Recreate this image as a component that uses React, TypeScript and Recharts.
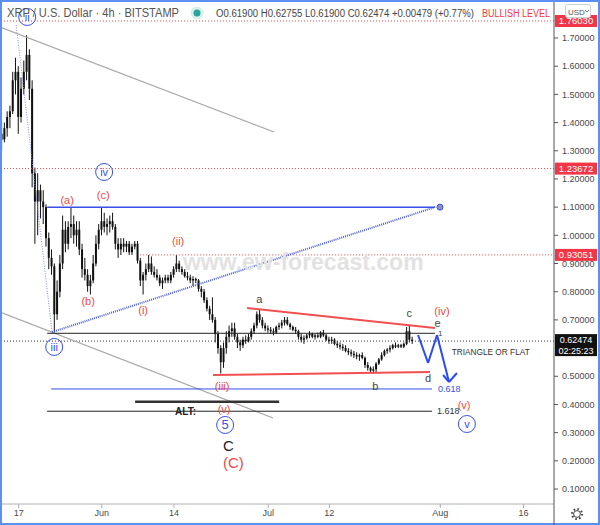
import { ComposedChart, Bar, XAxis, YAxis, ReferenceLine, ReferenceDot } from 'recharts';

const FONT = '"Liberation Sans", Arial, sans-serif';
const RED = '#f04848';
const BLUE = '#3650e8';

// 12h candles [open, high, low, close]; first one opens on May 14, x is days from Jun 1
const firstDay = -18;
const candles: [number, number, number, number][] = [
  [1.36, 1.4, 1.3, 1.34], [1.34, 1.4, 1.33, 1.38], [1.38, 1.44, 1.35, 1.42], [1.42, 1.46, 1.38, 1.44],
  [1.44, 1.58, 1.43, 1.55], [1.55, 1.63, 1.5, 1.58], [1.58, 1.6, 1.36, 1.42], [1.42, 1.56, 1.4, 1.52],
  [1.52, 1.62, 1.5, 1.58], [1.58, 1.71, 1.55, 1.64], [1.64, 1.66, 1.48, 1.52], [1.52, 1.55, 1.17, 1.22],
  [1.22, 1.24, 0.97, 1.12], [1.12, 1.22, 1.0, 1.16], [1.16, 1.18, 1.06, 1.12], [1.12, 1.16, 1.04, 1.1],
  [1.1, 1.11, 0.96, 0.99], [0.99, 1.01, 0.88, 0.92], [0.92, 0.95, 0.86, 0.89], [0.89, 0.9, 0.655, 0.72],
  [0.72, 0.84, 0.7, 0.8], [0.8, 0.93, 0.78, 0.9], [0.9, 1.07, 0.88, 1.02], [1.02, 1.05, 0.94, 0.97],
  [0.97, 1.05, 0.95, 1.03], [1.03, 1.1, 0.99, 1.04], [1.04, 1.07, 0.97, 1.0], [1.0, 1.05, 0.96, 1.02],
  [1.02, 1.05, 0.93, 0.95], [0.95, 0.97, 0.85, 0.88], [0.88, 0.92, 0.84, 0.86], [0.86, 0.88, 0.8, 0.82],
  [0.82, 0.86, 0.79, 0.84], [0.84, 0.93, 0.83, 0.9], [0.9, 1.0, 0.89, 0.97], [0.97, 1.04, 0.95, 1.02],
  // Jun 1
  [1.02, 1.1, 1.0, 1.05], [1.05, 1.08, 1.01, 1.03], [1.03, 1.06, 1.0, 1.04], [1.04, 1.07, 1.01, 1.05],
  [1.05, 1.08, 1.02, 1.03], [1.03, 1.04, 0.95, 0.97], [0.97, 0.99, 0.92, 0.95], [0.95, 0.99, 0.93, 0.97],
  [0.97, 0.99, 0.94, 0.96], [0.96, 0.98, 0.94, 0.97], [0.97, 0.98, 0.93, 0.94], [0.94, 0.97, 0.93, 0.96],
  [0.96, 0.98, 0.95, 0.97], [0.97, 0.98, 0.9, 0.91], [0.91, 0.92, 0.82, 0.84], [0.84, 0.87, 0.79, 0.86],
  [0.86, 0.9, 0.84, 0.88], [0.88, 0.93, 0.87, 0.9], [0.9, 0.925, 0.86, 0.87], [0.87, 0.89, 0.85, 0.86],
  [0.86, 0.88, 0.84, 0.85], [0.85, 0.86, 0.82, 0.83], [0.83, 0.85, 0.81, 0.84], [0.84, 0.86, 0.83, 0.85],
  [0.85, 0.86, 0.83, 0.84], [0.84, 0.87, 0.83, 0.86], [0.86, 0.89, 0.85, 0.88], [0.88, 0.93, 0.87, 0.9],
  [0.9, 0.91, 0.87, 0.88], [0.88, 0.89, 0.86, 0.87], [0.87, 0.88, 0.85, 0.855], [0.855, 0.87, 0.84, 0.85],
  [0.85, 0.86, 0.83, 0.84], [0.84, 0.855, 0.82, 0.845], [0.845, 0.85, 0.83, 0.84], [0.84, 0.845, 0.8, 0.81],
  [0.81, 0.82, 0.78, 0.8], [0.8, 0.81, 0.76, 0.77], [0.77, 0.78, 0.73, 0.74], [0.74, 0.75, 0.7, 0.72],
  [0.72, 0.78, 0.69, 0.7], [0.7, 0.71, 0.62, 0.65], [0.65, 0.66, 0.58, 0.6], [0.6, 0.61, 0.51, 0.55],
  [0.55, 0.62, 0.53, 0.6], [0.6, 0.66, 0.58, 0.64], [0.64, 0.68, 0.62, 0.66], [0.66, 0.69, 0.64, 0.67],
  [0.67, 0.69, 0.63, 0.64], [0.64, 0.65, 0.6, 0.62], [0.62, 0.63, 0.59, 0.61], [0.61, 0.64, 0.6, 0.63],
  [0.63, 0.645, 0.615, 0.625], [0.625, 0.65, 0.62, 0.64], [0.64, 0.67, 0.63, 0.66], [0.66, 0.69, 0.65, 0.68],
  [0.68, 0.73, 0.67, 0.72], [0.72, 0.735, 0.69, 0.7], [0.7, 0.71, 0.67, 0.68], [0.68, 0.69, 0.66, 0.67],
  // Jul 1
  [0.67, 0.68, 0.655, 0.665], [0.665, 0.675, 0.65, 0.66], [0.66, 0.67, 0.645, 0.655], [0.655, 0.68, 0.65, 0.675],
  [0.675, 0.69, 0.665, 0.68], [0.68, 0.7, 0.67, 0.69], [0.69, 0.71, 0.68, 0.7], [0.7, 0.71, 0.68, 0.685],
  [0.685, 0.69, 0.665, 0.675], [0.675, 0.68, 0.66, 0.665], [0.665, 0.675, 0.65, 0.66], [0.66, 0.665, 0.63, 0.64],
  [0.64, 0.65, 0.62, 0.63], [0.63, 0.645, 0.615, 0.635], [0.635, 0.65, 0.63, 0.645], [0.645, 0.66, 0.635, 0.65],
  [0.65, 0.655, 0.635, 0.64], [0.64, 0.65, 0.63, 0.645], [0.645, 0.655, 0.635, 0.64], [0.64, 0.66, 0.635, 0.655],
  [0.655, 0.665, 0.64, 0.645], [0.645, 0.65, 0.625, 0.63], [0.63, 0.64, 0.615, 0.625], [0.625, 0.64, 0.615, 0.63],
  [0.63, 0.635, 0.61, 0.615], [0.615, 0.625, 0.6, 0.61], [0.61, 0.62, 0.595, 0.605], [0.605, 0.615, 0.59, 0.6],
  [0.6, 0.61, 0.585, 0.59], [0.59, 0.6, 0.575, 0.585], [0.585, 0.595, 0.57, 0.58], [0.58, 0.59, 0.565, 0.575],
  [0.575, 0.585, 0.56, 0.57], [0.57, 0.58, 0.555, 0.575], [0.575, 0.585, 0.56, 0.565], [0.565, 0.57, 0.53, 0.54],
  [0.54, 0.55, 0.52, 0.53], [0.53, 0.535, 0.515, 0.52], [0.52, 0.535, 0.51, 0.525], [0.525, 0.55, 0.515, 0.545],
  [0.545, 0.565, 0.54, 0.56], [0.56, 0.585, 0.555, 0.575], [0.575, 0.595, 0.57, 0.59], [0.59, 0.6, 0.58, 0.595],
  [0.595, 0.61, 0.585, 0.6], [0.6, 0.615, 0.595, 0.61], [0.61, 0.62, 0.6, 0.605], [0.605, 0.615, 0.6, 0.61],
  [0.61, 0.615, 0.6, 0.605], [0.605, 0.62, 0.6, 0.615], [0.615, 0.675, 0.61, 0.66], [0.66, 0.68, 0.62, 0.63],
  [0.63, 0.64, 0.615, 0.62474],
];

const dateTicks = [-15, 0, 13, 30, 41, 61, 76];
const dateLabels = ['17', 'Jun', '14', 'Jul', '12', 'Aug', '16'];
// 0.6 sits under the last-price tag in the reference
const priceTicks = [0.1, 0.2, 0.3, 0.4, 0.5, 0.7, 0.8, 0.9, 1.0, 1.1, 1.2, 1.3, 1.4, 1.5, 1.6, 1.7];

const bullishLevel = 1.7603;
const redLevels = [1.23672, 0.93051];
const lastPrice = 0.62474;
const countdown = '02:25:23';

// drawn lines, [day, price] pairs
const channelTop = [[-18, 1.736], [31.05, 1.3666]];
const channelBottom = [[-18, 0.7252], [30.86, 0.352]];
const iiToIii = [[-15.44, 1.746], [-8.95, 0.6535]];
const iiiToTarget = [[-8.95, 0.657], [60.05, 1.1]];
const triangleTop = [[26.18, 0.7422], [60.05, 0.6713]];
const triangleBottom = [[20.05, 0.5045], [59.15, 0.5152]];
const projection = [[57.0, 0.6464], [58.8, 0.5471], [60.41, 0.6464], [62.58, 0.4797]];
const arrowHead = [[61.5, 0.5045], [62.58, 0.4797], [64.0, 0.5116]];
const partialLow = [6.9, 81.5];
const fibLevels = [
  { p: 1.1, from: -9.86, to: 60.05 },
  { p: 0.6525, from: -9.86, to: 60.05 },
  { p: 0.455, from: -9.14, to: 59.5 },
  { p: 0.376, from: -9.86, to: 59.5 },
];
const altLevel = { p: 0.41, from: 5.99, to: 31.96 };
const targetDot = [60.95, 1.1];

const circledWaves = [
  { t: 'ii', d: -13.46, p: 1.7745 },
  { t: 'iv', d: 0.41, p: 1.2247 },
  { t: 'iii', d: -8.59, p: 0.6039 },
  { t: '5', d: 22.22, p: 0.3272 },
  { t: 'v', d: 65.8, p: 0.3307 },
];
const redWaves = [
  { t: '(a)', d: -6.25, p: 1.1253 },
  { t: '(c)', d: 0.23, p: 1.1431 },
  { t: '(b)', d: -2.47, p: 0.767 },
  { t: '(i)', d: 7.44, p: 0.735 },
  { t: '(ii)', d: 13.75, p: 0.9799 },
  { t: '(iii)', d: 21.68, p: 0.4655 },
  { t: '(v)', d: 22.04, p: 0.384 },
  { t: '(iv)', d: 61.3, p: 0.733 },
  { t: '(v)', d: 65.3, p: 0.398 },
];
const greyWaves = [
  { t: 'a', d: 28.36, p: 0.774 },
  { t: 'b', d: 49.3, p: 0.4655 },
  { t: 'c', d: 55.4, p: 0.7255 },
  { t: 'd', d: 58.8, p: 0.4939 },
  { t: 'e', d: 60.5, p: 0.688 },
];

const data = candles.map(([o, h, l, c], i) => ({ d: firstDay + i * 0.5, o, h, l, c, range: [l, h] }));

const Candle = (props: any) => {
  const { x, y, width, height, payload } = props;
  const { o, h, l, c } = payload;
  const top = Math.min(y, y + height);
  const span = Math.abs(height);
  const k = h > l ? span / (h - l) : 0;
  const yOf = (v: number) => top + (h - v) * k;
  const mid = x + width / 2;
  const bTop = yOf(Math.max(o, c));
  const bH = Math.max(1, yOf(Math.min(o, c)) - bTop);
  return (
    <g>
      <line x1={mid} x2={mid} y1={top} y2={top + span} stroke="#111" strokeWidth={1} />
      <rect x={x} y={bTop} width={width} height={bH} fill="#111" />
    </g>
  );
};

const seg = (pts: number[][]) => pts.map(([x, y]) => ({ x, y }));

const textAt = (t: string, fill: string, size: number, extra: any = {}) => (props: any) => (
  <text x={props.cx} y={props.cy} fill={fill} fontSize={size} fontFamily={FONT} textAnchor="middle" dominantBaseline="central" {...extra}>
    {t}
  </text>
);

const circledAt = (t: string) => (props: any) => (
  <g>
    <circle cx={props.cx} cy={props.cy} r={8.5} fill="none" stroke={BLUE} strokeWidth={1} />
    <text x={props.cx} y={props.cy} fill={BLUE} fontSize={t === '5' ? 13 : 11} fontFamily={FONT} textAnchor="middle" dominantBaseline="central">
      {t}
    </text>
  </g>
);

const tagAt = (label: string, bg: string, sub?: string) => (props: any) => (
  <g>
    <rect x={props.cx + 1} y={props.cy - (sub ? 7 : 6)} width={42} height={sub ? 22 : 12} fill={bg} />
    <text x={props.cx + 22} y={props.cy - (sub ? 1 : 0)} fill="#fff" fontSize={sub ? 9 : 9.5} fontFamily={FONT} textAnchor="middle" dominantBaseline="central">
      {label}
    </text>
    {sub && (
      <text x={props.cx + 22} y={props.cy + 9.5} fill="#fff" fontSize={9} fontFamily={FONT} textAnchor="middle" dominantBaseline="central">
        {sub}
      </text>
    )}
  </g>
);

export default function App() {
  const xMax = 81.5;
  return (
    <div style={{ position: 'absolute', left: 0, top: 0, width: 600, height: 525, boxSizing: 'border-box', border: '2px solid #5b8ff0', background: '#fff' }}>
      <ComposedChart width={596} height={521} data={data} margin={{ top: 0, right: 0, bottom: 0, left: 0 }}>
        <XAxis
          dataKey="d"
          type="number"
          domain={[-18, xMax]}
          allowDataOverflow
          ticks={dateTicks}
          interval={0}
          tickFormatter={(v: number) => dateLabels[dateTicks.indexOf(v)] ?? ''}
          height={19}
          tickSize={4}
          tickMargin={2}
          stroke="#b0b0b0"
          tick={{ fill: '#4a4a4a', fontSize: 9, fontFamily: FONT }}
        />
        <YAxis
          orientation="right"
          type="number"
          domain={[0.0469, 1.8277]}
          allowDataOverflow
          ticks={priceTicks}
          interval={0}
          tickFormatter={(v: number) => v.toFixed(5)}
          width={44}
          tickSize={4}
          tickMargin={4}
          stroke="#555"
          tick={{ fill: '#4a4a4a', fontSize: 9, fontFamily: FONT, textAnchor: 'start' }}
        />

        <ReferenceDot x={36.3} y={0.9054} r={0} ifOverflow="visible" shape={textAt('www.ew-forecast.com', '#e2e2e2', 23, { fontWeight: 'bold' })} />

        <ReferenceLine y={bullishLevel} stroke={RED} strokeDasharray="1 2" ifOverflow="visible" />
        <ReferenceLine y={redLevels[0]} stroke={RED} strokeDasharray="1 2" ifOverflow="visible" />
        <ReferenceLine segment={[{ x: partialLow[0], y: redLevels[1] }, { x: partialLow[1], y: redLevels[1] }]} stroke={RED} strokeDasharray="1 2" ifOverflow="visible" />
        <ReferenceLine y={lastPrice} stroke="#333" strokeDasharray="1 2" ifOverflow="visible" />

        <ReferenceLine segment={seg(channelTop)} stroke="#a8a8a8" strokeWidth={1.2} ifOverflow="visible" />
        <ReferenceLine segment={seg(channelBottom)} stroke="#a8a8a8" strokeWidth={1.2} ifOverflow="visible" />
        <ReferenceLine segment={seg(iiToIii)} stroke="#7d8cf0" strokeDasharray="1 1.5" ifOverflow="visible" />
        <ReferenceLine segment={seg(iiiToTarget)} stroke="#4d5ed4" strokeWidth={2} strokeDasharray="1 1" ifOverflow="visible" />

        {fibLevels.map((f, i) => (
          <ReferenceLine
            key={'fib' + i}
            segment={[{ x: f.from, y: f.p }, { x: f.to, y: f.p }]}
            stroke={i === 0 || i === 2 ? BLUE : '#222'}
            strokeWidth={i === 0 ? 1.5 : 1}
            ifOverflow="visible"
          />
        ))}
        <ReferenceLine segment={[{ x: altLevel.from, y: altLevel.p }, { x: altLevel.to, y: altLevel.p }]} stroke="#333" strokeWidth={2.5} ifOverflow="visible" />

        <ReferenceLine segment={seg(triangleTop)} stroke="#f25050" strokeWidth={2} ifOverflow="visible" />
        <ReferenceLine segment={seg(triangleBottom)} stroke="#f25050" strokeWidth={2} ifOverflow="visible" />

        <Bar dataKey="range" barSize={2} shape={Candle} isAnimationActive={false} />

        {projection.slice(1).map((p, i) => (
          <ReferenceLine key={'pr' + i} segment={seg([projection[i], p])} stroke="#2b4bf2" strokeWidth={2} ifOverflow="visible" />
        ))}
        {arrowHead.slice(1).map((p, i) => (
          <ReferenceLine key={'ah' + i} segment={seg([arrowHead[i], p])} stroke="#2b4bf2" strokeWidth={2} ifOverflow="visible" />
        ))}

        <ReferenceDot
          x={targetDot[0]}
          y={targetDot[1]}
          r={3}
          fill="#8a94b8"
          stroke={BLUE}
          strokeWidth={1}
          ifOverflow="visible"
        />

        {circledWaves.map((w, i) => (
          <ReferenceDot key={'cw' + i} x={w.d} y={w.p} r={0} ifOverflow="visible" shape={circledAt(w.t)} />
        ))}
        {redWaves.map((w, i) => (
          <ReferenceDot key={'rw' + i} x={w.d} y={w.p} r={0} ifOverflow="visible" shape={textAt(w.t, RED, 11)} />
        ))}
        {greyWaves.map((w, i) => (
          <ReferenceDot key={'gw' + i} x={w.d} y={w.p} r={0} ifOverflow="visible" shape={textAt(w.t, '#444', 11)} />
        ))}
        <ReferenceDot x={61.0} y={0.65} r={0} ifOverflow="visible" shape={textAt('1', '#444', 8)} />
        <ReferenceDot x={22.8} y={0.2527} r={0} ifOverflow="visible" shape={textAt('C', '#222', 15)} />
        <ReferenceDot x={23.7} y={0.1945} r={0} ifOverflow="visible" shape={textAt('(C)', RED, 15)} />

        <ReferenceDot x={60.6} y={0.455} r={0} ifOverflow="visible" shape={textAt('0.618', BLUE, 9, { textAnchor: 'start' })} />
        <ReferenceDot x={60.4} y={0.376} r={0} ifOverflow="visible" shape={textAt('1.618', '#333', 9, { textAnchor: 'start' })} />
        <ReferenceDot x={13.2} y={0.376} r={0} ifOverflow="visible" shape={textAt('ALT:', '#222', 10, { textAnchor: 'start', fontWeight: 'bold' })} />
        <ReferenceDot
          x={63.06}
          y={0.5872}
          r={0}
          ifOverflow="visible"
          shape={textAt('TRIANGLE OR FLAT', '#333', 9.5, { textAnchor: 'start', textLength: 78, lengthAdjust: 'spacingAndGlyphs' })}
        />

        <ReferenceDot x={xMax} y={bullishLevel} r={0} ifOverflow="visible" shape={tagAt('1.76030', '#f23645')} />
        <ReferenceDot x={xMax} y={redLevels[0]} r={0} ifOverflow="visible" shape={tagAt('1.23672', '#f23645')} />
        <ReferenceDot x={xMax} y={redLevels[1]} r={0} ifOverflow="visible" shape={tagAt('0.93051', '#f23645')} />
        <ReferenceDot x={xMax} y={lastPrice} r={0} ifOverflow="visible" shape={tagAt(lastPrice.toFixed(5), '#111', countdown)} />
      </ComposedChart>

      <svg width={600} height={525} style={{ position: 'absolute', left: -2, top: -2, pointerEvents: 'none' }}>
        <text x={7} y={17} fill="#555" fontSize={12} fontFamily={FONT} textLength={172} lengthAdjust="spacingAndGlyphs">
          XRP / U.S. Dollar · 4h · BITSTAMP
        </text>
        <circle cx={197} cy={13} r={6.5} fill="#d6efe9" />
        <circle cx={197} cy={13} r={3.5} fill="#26a69a" />
        <text x={216} y={17} fill="#444" fontSize={10} fontFamily={FONT} textLength={258} lengthAdjust="spacingAndGlyphs">
          O0.61900 H0.62755 L0.61900 C0.62474 +0.00479 (+0.77%)
        </text>
        <text x={482} y={17} fill="#f23645" fontSize={10} fontFamily={FONT} textLength={68} lengthAdjust="spacingAndGlyphs">
          BULLISH LEVEL
        </text>
        <rect x={565.5} y={4.5} width={25} height={13} rx={2} fill="#fff" stroke="#d0d0d0" />
        <text x={568} y={14.5} fill="#555" fontSize={8} fontFamily={FONT}>USD</text>
        <path d="M585 10 l2 2 l2 -2" fill="none" stroke="#555" strokeWidth={0.8} />
        <line x1={554} x2={554} y1={504} y2={525} stroke="#555" />
        <circle cx={577} cy={514} r={5} fill="none" stroke="#444" strokeWidth={2} strokeDasharray="1.6 2.3" />
        <circle cx={577} cy={514} r={3.4} fill="#fff" stroke="#444" strokeWidth={1} />
      </svg>
    </div>
  );
}
